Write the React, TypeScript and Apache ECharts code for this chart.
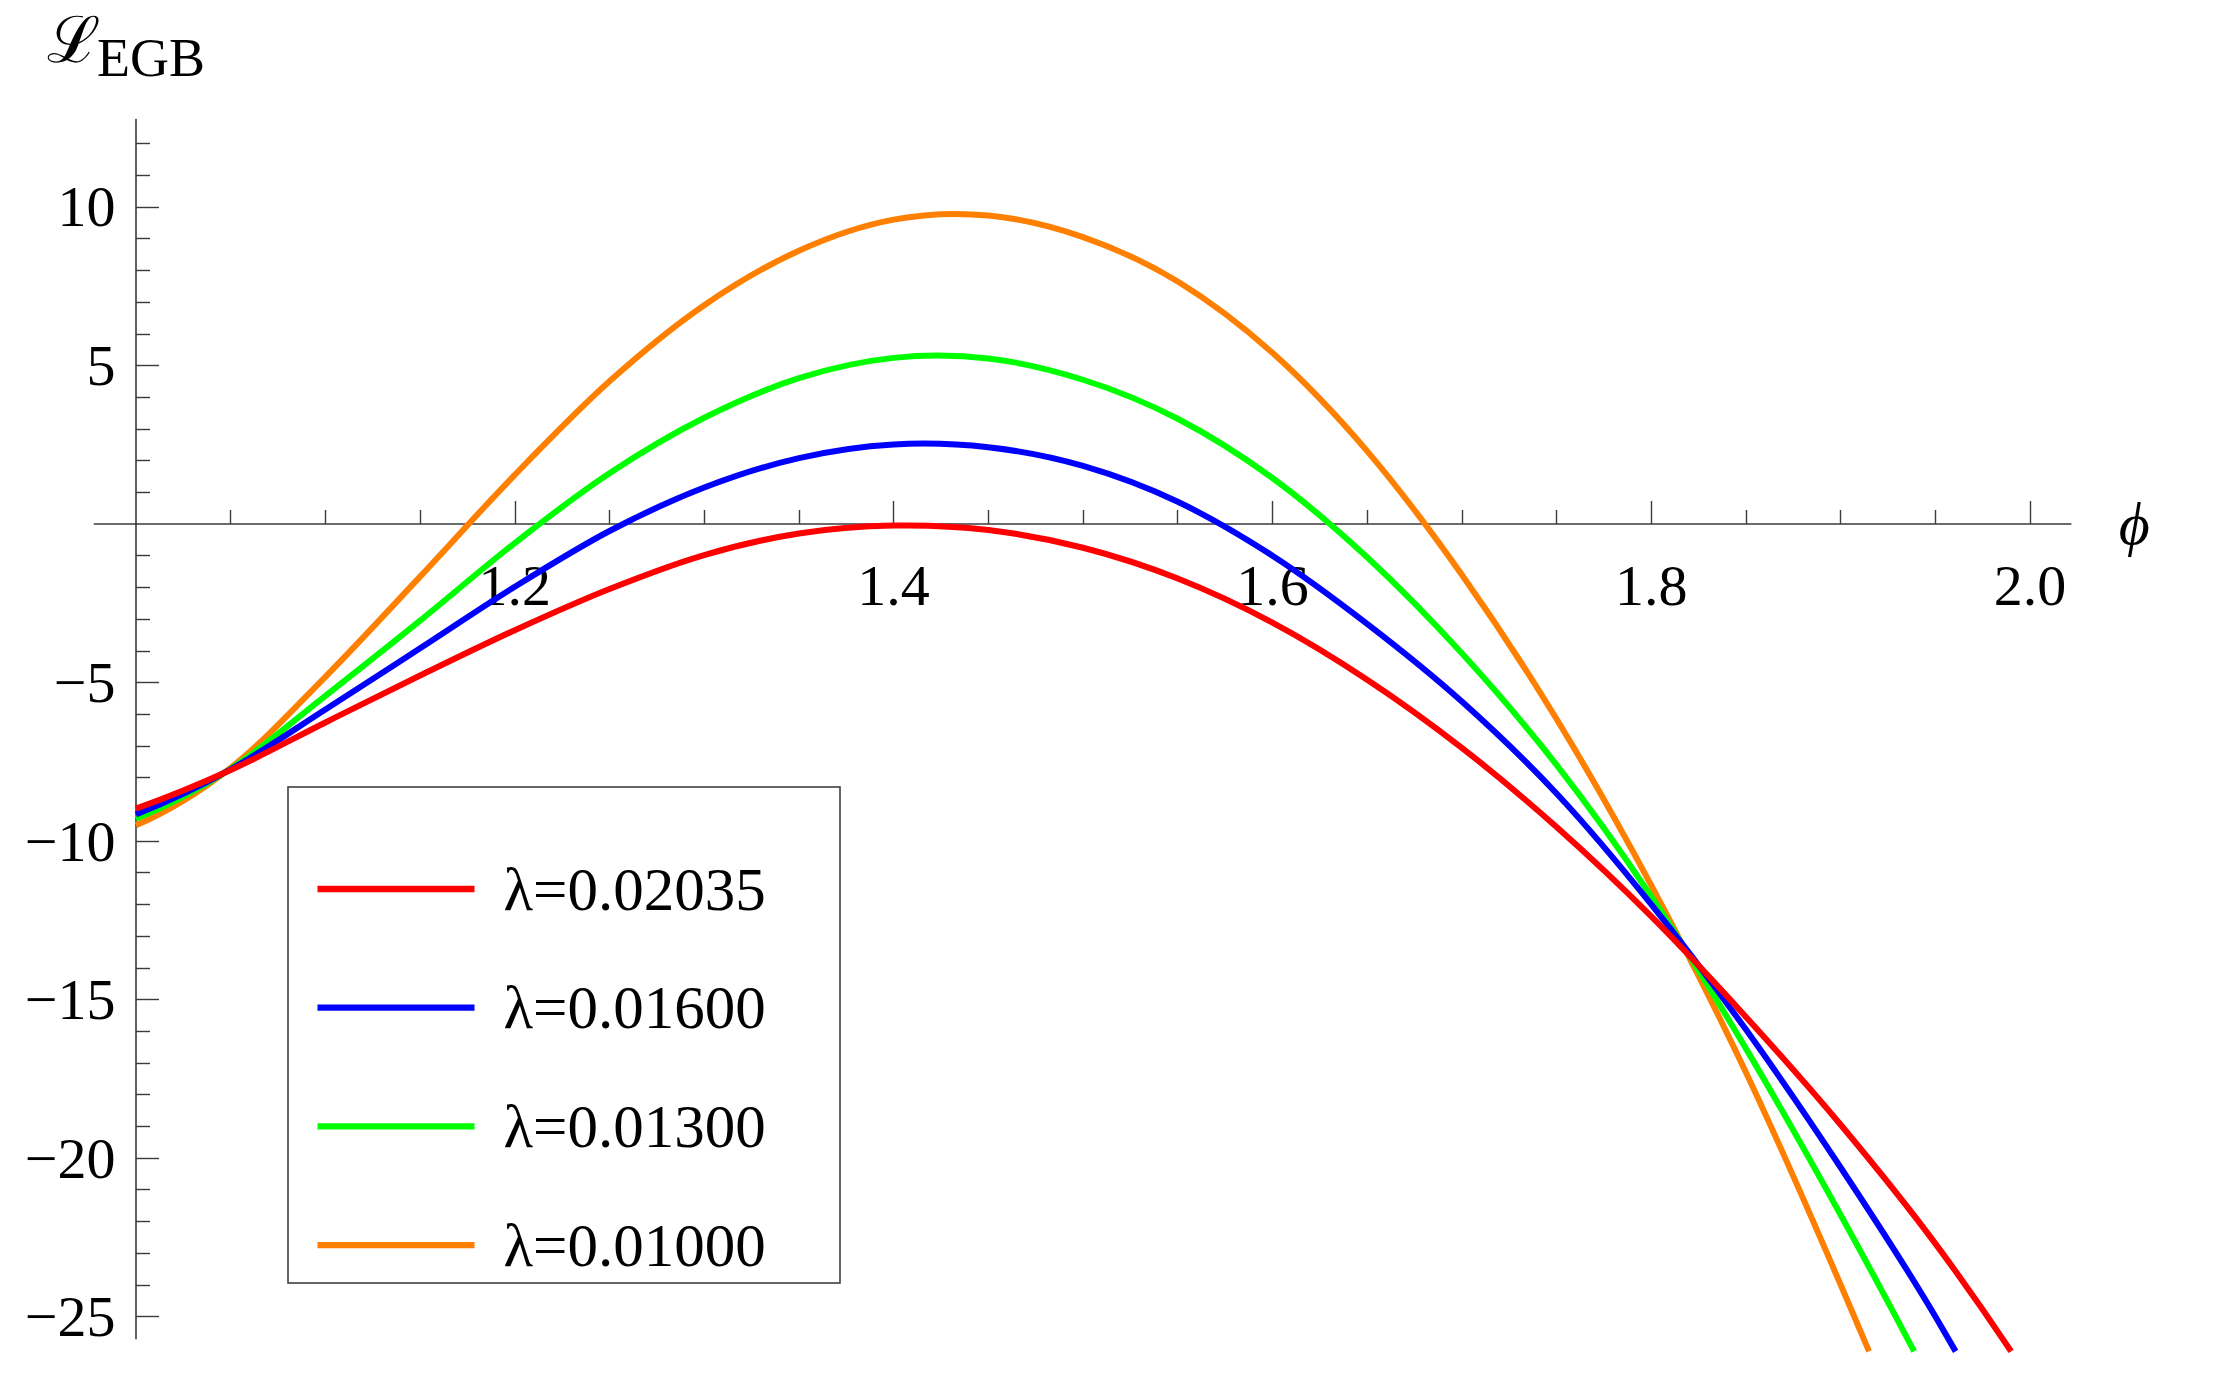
import React, { useEffect, useRef } from "react";
import * as echarts from "echarts";

// φ sample positions
const PHI = [1.0, 1.05, 1.1, 1.15, 1.2, 1.25, 1.3, 1.35, 1.4, 1.45, 1.5, 1.55, 1.6, 1.65, 1.7, 1.75, 1.8, 1.85, 1.9, 1.95];

// L_EGB values
const RED = [-8.98, -7.76, -6.26, -4.78, -3.35, -2.05, -0.98, -0.3, -0.05, -0.19, -0.75, -1.72, -3.11, -4.91, -7.06, -9.56, -12.38, -15.55, -18.95, -22.7];
const BLUE = [-9.16, -7.74, -5.85, -3.92, -1.98, -0.22, 1.15, 2.08, 2.51, 2.42, 1.83, 0.7, -1.0, -3.15, -5.6, -8.5, -12.0, -15.95, -20.3, -25.0];
const GREEN = [-9.3, -7.72, -5.42, -3.05, -0.6, 1.6, 3.35, 4.6, 5.24, 5.22, 4.55, 3.32, 1.45, -1.05, -4.08, -7.6, -11.75, -16.55, -21.8];
const ORANGE = [-9.5, -7.69, -4.82, -1.66, 1.55, 4.5, 6.9, 8.62, 9.6, 9.73, 9.05, 7.65, 5.4, 2.3, -1.6, -6.15, -11.4, -17.3, -24.0];

// where each curve leaves the frame at the bottom
const END_PHI = [1.99, 1.9607, 1.9388, 1.915]; // red, blue, green, orange
const END_Y = -26.1;

const NAMES = ["λ=0.02035", "λ=0.01600", "λ=0.01300", "λ=0.01000"];
const COLORS = ["#ff0000", "#0000ff", "#00ff00", "#ff7f00"];

const X_MAJOR = [1.2, 1.4, 1.6, 1.8, 2.0];
const X_MINOR = [1.05, 1.1, 1.15, 1.25, 1.3, 1.35, 1.45, 1.5, 1.55, 1.65, 1.7, 1.75, 1.85, 1.9, 1.95];
const Y_MAJOR = [-25, -20, -15, -10, -5, 5, 10];
const Y_MINOR = [-24, -23, -22, -21, -19, -18, -17, -16, -14, -13, -12, -11, -9, -8, -7, -6, -4, -3, -2, -1, 1, 2, 3, 4, 6, 7, 8, 9, 11, 12];

const X_MIN = 0.978;
const X_MAX = 2.0215;
const Y_MIN = -25.7;
const Y_MAX = 12.76;

const FONT = '"Liberation Serif", "Times New Roman", serif';
const AXIS_COLOR = "#3a3a3a";

const GRID_TOP = 119.5;
const GRID_BOTTOM = 34.3;
const CHART_H = 1373;

function buildData(vals: number[], endPhi: number): number[][] {
  const d: number[][] = [];
  vals.forEach((v, i) => d.push([PHI[i], v]));
  d.push([endPhi, END_Y]);
  return d;
}

// smooth cubic Hermite path through the read points, mapped with the chart's own coord system
function curvePath(pts: number[][], coord: (p: number[]) => number[]): string {
  const n = pts.length;
  const m: number[] = new Array(n).fill(0);
  for (let i = 1; i < n - 1; i++) {
    const h0 = pts[i][0] - pts[i - 1][0];
    const h1 = pts[i + 1][0] - pts[i][0];
    const d0 = (pts[i][1] - pts[i - 1][1]) / h0;
    const d1 = (pts[i + 1][1] - pts[i][1]) / h1;
    m[i] = (h1 * d0 + h0 * d1) / (h0 + h1);
  }
  const dA = (pts[1][1] - pts[0][1]) / (pts[1][0] - pts[0][0]);
  m[0] = 2 * dA - m[1];
  const dB = (pts[n - 1][1] - pts[n - 2][1]) / (pts[n - 1][0] - pts[n - 2][0]);
  m[n - 1] = 2 * dB - m[n - 2];
  const p0 = coord(pts[0]);
  let d = `M${p0[0]},${p0[1]}`;
  for (let i = 0; i < n - 1; i++) {
    const h = pts[i + 1][0] - pts[i][0];
    const c1 = coord([pts[i][0] + h / 3, pts[i][1] + (m[i] * h) / 3]);
    const c2 = coord([pts[i + 1][0] - h / 3, pts[i + 1][1] - (m[i + 1] * h) / 3]);
    const p = coord(pts[i + 1]);
    d += ` C${c1[0]},${c1[1]} ${c2[0]},${c2[1]} ${p[0]},${p[1]}`;
  }
  return d;
}

export default function App() {
  const ref = useRef<HTMLDivElement>(null);

  useEffect(() => {
    document.body.style.margin = "0";
    if (!ref.current) return;
    const chart = echarts.init(ref.current, undefined, { renderer: "svg" });

    const allVals = [RED, BLUE, GREEN, ORANGE];
    const order = [3, 2, 1, 0]; // red drawn last (on top)
    const series = order.map((k) => {
      const pts = buildData(allVals[k], END_PHI[k]);
      return {
        type: "custom",
        name: NAMES[k],
        data: pts,
        silent: true,
        clip: false,
        itemStyle: { color: COLORS[k] },
        encode: { x: 0, y: 1 },
        xAxisIndex: 0,
        yAxisIndex: 0,
        renderItem: (params: any, api: any) => {
          if (params.dataIndex !== 0) return null;
          return {
            type: "path",
            shape: { pathData: curvePath(pts, (p) => api.coord(p)) },
            style: { fill: "none", stroke: COLORS[k], lineWidth: 6, lineJoin: "round" },
          };
        },
      };
    });

    const yFmt = (v: number) => (v < 0 ? "\u2212" + Math.abs(v) : String(v));

    const gridH = CHART_H - GRID_TOP - GRID_BOTTOM;
    const zeroFromBottom = ((0 - Y_MIN) / (Y_MAX - Y_MIN)) * gridH;

    const xAxisCommon = {
      type: "value",
      min: X_MIN,
      max: X_MAX,
      position: "bottom",
      offset: -zeroFromBottom,
      splitLine: { show: false },
    };

    chart.setOption({
      animation: false,
      backgroundColor: "#ffffff",
      grid: {
        left: 94.3,
        right: 142.2,
        top: GRID_TOP,
        bottom: GRID_BOTTOM,
        containLabel: false,
        outerBoundsMode: "none",
      },
      xAxis: [
        {
          ...xAxisCommon,
          axisLine: { show: true, onZero: false, lineStyle: { color: AXIS_COLOR, width: 1.6 } },
          axisTick: { show: true, inside: true, length: 23, customValues: X_MAJOR, lineStyle: { color: AXIS_COLOR, width: 1.4 } },
          axisLabel: {
            show: true,
            customValues: X_MAJOR,
            margin: 32.5,
            formatter: (v: number) => v.toFixed(1),
            fontFamily: FONT,
            fontSize: 58,
            color: "#000",
          },
          name: "\u03D5",
          nameLocation: "end",
          nameGap: 48,
          nameTextStyle: {
            fontFamily: FONT,
            fontStyle: "italic",
            fontSize: 60,
            color: "#000",
            padding: [22, 0, 0, 0],
          },
        },
        {
          ...xAxisCommon,
          axisLine: { show: false, onZero: false },
          axisTick: { show: true, inside: true, length: 14, customValues: X_MINOR, lineStyle: { color: AXIS_COLOR, width: 1.4 } },
          axisLabel: { show: false },
        },
      ],
      yAxis: [
        {
          type: "value",
          min: Y_MIN,
          max: Y_MAX,
          position: "left",
          offset: -41.7,
          axisLine: { show: true, onZero: false, lineStyle: { color: AXIS_COLOR, width: 1.6 } },
          axisTick: { show: true, inside: true, length: 23, customValues: Y_MAJOR, lineStyle: { color: AXIS_COLOR, width: 1.4 } },
          axisLabel: {
            show: true,
            customValues: Y_MAJOR,
            margin: 20.5,
            formatter: yFmt,
            fontFamily: FONT,
            fontSize: 58,
            color: "#000",
            padding: [8, 0, 0, 0],
          },
          splitLine: { show: false },
        },
        {
          type: "value",
          min: Y_MIN,
          max: Y_MAX,
          position: "left",
          offset: -41.7,
          axisLine: { show: false, onZero: false },
          axisTick: { show: true, inside: true, length: 14, customValues: Y_MINOR, lineStyle: { color: AXIS_COLOR, width: 1.4 } },
          axisLabel: { show: false },
          splitLine: { show: false },
        },
      ],
      legend: {
        orient: "vertical",
        left: 317.5,
        top: 834.5,
        padding: 0,
        itemGap: 9.7,
        itemWidth: 157,
        itemHeight: 6.3,
        icon: "rect",
        selectedMode: false,
        data: NAMES,
        itemStyle: { borderWidth: 0 },
        textStyle: {
          fontFamily: FONT,
          fontSize: 61,
          lineHeight: 58,
          color: "#000",
          padding: [0, 0, 51, 24],
        },
      },
      graphic: [
        {
          type: "rect",
          silent: true,
          shape: { x: 288, y: 787, width: 552, height: 496 },
          style: { fill: "none", stroke: "#333", lineWidth: 1.5 },
          z: 10,
        },
        {
          type: "text",
          silent: true,
          x: 47,
          y: 40,
          style: {
            text: "\u2112",
            fontFamily: '"DejaVu Serif", serif',
            fontSize: 64,
            fill: "#000",
            verticalAlign: "middle",
          },
        },
        {
          type: "text",
          silent: true,
          x: 97,
          y: 58,
          style: {
            text: "EGB",
            fontFamily: FONT,
            fontSize: 54,
            fill: "#000",
            verticalAlign: "middle",
          },
        },
      ],
      series,
    });

    return () => chart.dispose();
  }, []);

  return <div ref={ref} style={{ width: 2213, height: 1373 }} />;
}
